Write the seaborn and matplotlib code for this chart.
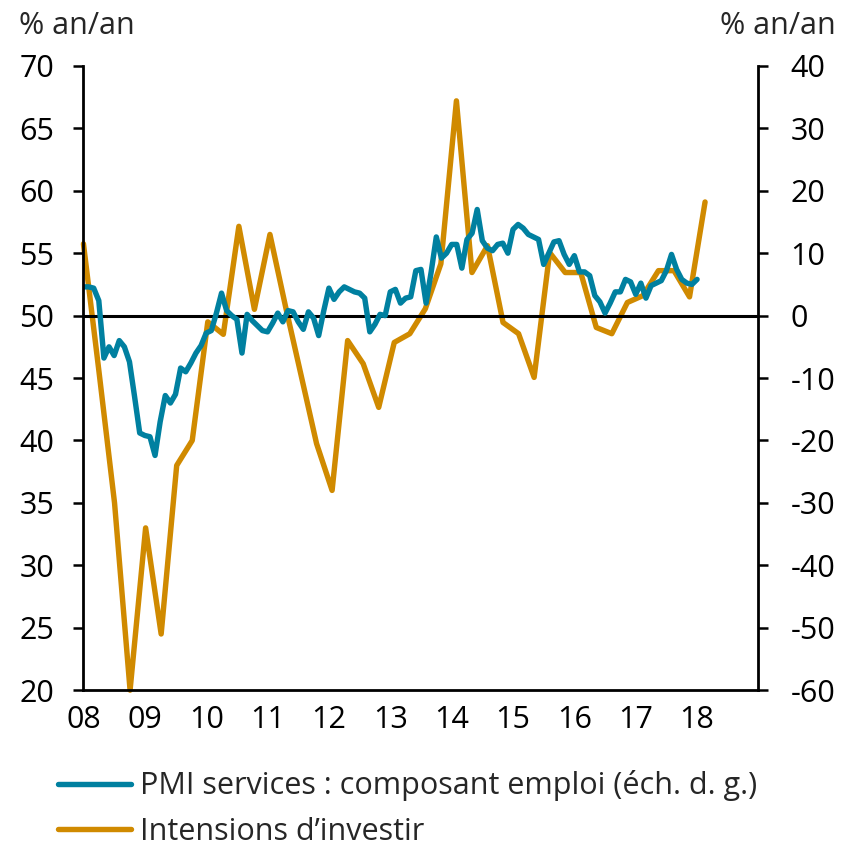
import numpy as np
import pandas as pd
import matplotlib
matplotlib.use("Agg")
import matplotlib.pyplot as plt
import seaborn as sns

# PMI services, composant emploi (monthly, Jan 2008 - Jan 2018), left axis
pmi_emploi = [
    52.3, 52.3, 52.2, 51.2, 46.6, 47.5, 46.8, 48.0, 47.5, 46.3, 43.5, 40.6,
    40.4, 40.3, 38.8, 41.5, 43.6, 43.0, 43.7, 45.8, 45.5, 46.2, 47.0, 47.6,
    48.6, 48.8, 50.2, 51.8, 50.4, 50.0, 49.7, 47.0, 50.1, 49.6, 49.2, 48.8,
    48.7, 49.4, 50.2, 49.5, 50.4, 50.3, 49.5, 48.9, 50.3, 49.8, 48.4, 50.4,
    52.2, 51.3, 51.9, 52.3, 52.1, 51.9, 51.8, 51.4, 48.7, 49.3, 50.1, 50.0,
    51.9, 52.1, 51.0, 51.4, 51.5, 53.6, 53.7, 51.0, 53.5, 56.3, 54.6, 55.0,
    55.7, 55.7, 53.8, 56.1, 56.6, 58.5, 56.0, 55.4, 55.2, 55.7, 55.8, 55.0,
    56.9, 57.3, 57.0, 56.5, 56.3, 56.1, 54.1, 55.0, 55.9, 56.0, 54.9, 54.1,
    54.8, 53.5, 53.5, 53.2, 51.6, 51.1, 50.2, 51.0, 51.9, 51.9, 52.9, 52.7,
    51.7, 52.6, 51.4, 52.4, 52.6, 52.8, 53.6, 54.9, 53.7, 52.9, 52.6, 52.5,
    52.9,
]

# Intentions d'investir (quarterly survey), right axis
intentions = [
    11.5, -9.0, -30.0, -60.0, -34.0, -51.0, -24.0, -20.0,
    -1.0, -3.0, 14.3, 1.0, 13.0, 1.5, -9.5, -20.5,
    -28.0, -4.0, -7.7, -14.7, -4.3, -2.9, 1.1, 8.3,
    34.4, 6.9, 11.2, -1.1, -2.9, -9.9, 10.1, 6.9,
    6.9, -1.9, -2.9, 2.1, 3.2, 7.2, 7.2, 3.0,
    18.2,
]

years = list(range(2008, 2019))
year_labels = ["08", "09", "10", "11", "12", "13", "14", "15", "16", "17", "18"]

pmi_dates = [2008 + i / 12 for i in range(len(pmi_emploi))]
int_dates = list(np.linspace(2008.0, 2018.13, len(intentions)))

blue = "#0080A0"
orange = "#D08A00"
fs = 22

sns.set_style("white")
plt.rcParams["font.family"] = ["Open Sans", "DejaVu Sans"]
plt.rcParams["axes.unicode_minus"] = False

fig = plt.figure(figsize=(8.43, 8.5), dpi=100)
ax = fig.add_axes([0.099, 0.188, 0.8007, 0.7345])
ax2 = ax.twinx()

df_pmi = pd.DataFrame({"date": pmi_dates, "val": pmi_emploi})
df_int = pd.DataFrame({"date": int_dates, "val": intentions})

ax.axhline(50, color="black", lw=2.2, zorder=1)
sns.lineplot(data=df_pmi, x="date", y="val", ax=ax, color=blue, lw=3.9,
             label="PMI services : composant emploi (éch. d. g.)", legend=False)
sns.lineplot(data=df_int, x="date", y="val", ax=ax2, color=orange, lw=3.9,
             label="Intensions d\u2019investir", legend=False, clip_on=False)

ax.set_xlim(2008, 2019)
ax.set_ylim(20, 70)
ax2.set_ylim(-60, 40)
ax.set_xticks(years)
ax.set_xticklabels(year_labels)
ax.set_yticks(range(20, 71, 5))
ax2.set_yticks(range(-60, 41, 10))
ax.set_xlabel("")
ax.set_ylabel("")
ax2.set_ylabel("")

for a in (ax, ax2):
    a.spines["top"].set_visible(False)
    for s in a.spines.values():
        s.set_color("black")
        s.set_linewidth(2.0)
ax.spines["right"].set_visible(False)
ax2.spines["left"].set_visible(False)
ax2.spines["bottom"].set_visible(False)

ax.tick_params(axis="y", direction="out", length=7, width=1.8,
               labelsize=fs, colors="black", pad=14)
ax.tick_params(axis="x", direction="inout", length=14, width=1.8,
               labelsize=fs, colors="black", pad=4)
ax2.tick_params(axis="y", direction="out", length=7, width=1.8,
                labelsize=fs, colors="black", pad=16)
ax.set_zorder(ax2.get_zorder() + 1)
ax.patch.set_visible(False)

fig.text(0.023, 0.969, "% an/an", fontsize=fs, ha="left", va="center")
fig.text(0.991, 0.969, "% an/an", fontsize=fs, ha="right", va="center")

h1, l1 = ax.get_legend_handles_labels()
h2, l2 = ax2.get_legend_handles_labels()
fig.legend(h1 + h2, l1 + l2, loc="upper left", bbox_to_anchor=(0.054, 0.108),
           frameon=False, fontsize=fs, handlelength=2.4, handletextpad=0.3,
           labelspacing=0.5, borderaxespad=0)

fig.savefig("out.png", dpi=100)
